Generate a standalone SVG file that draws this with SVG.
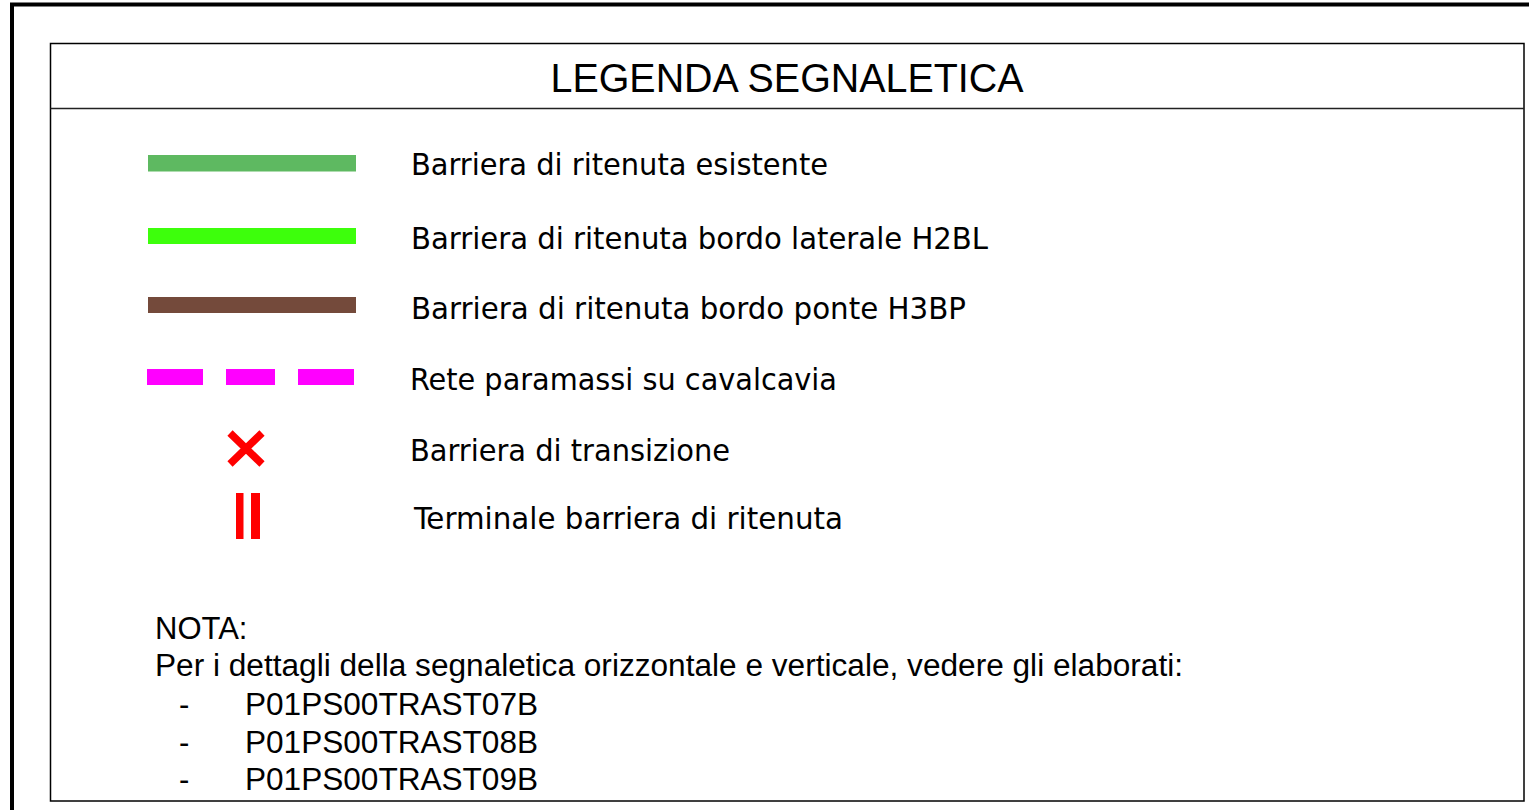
<svg xmlns="http://www.w3.org/2000/svg" width="1529" height="810" viewBox="0 0 1529 810">
<style>
.lbl{font-family:"DejaVu Sans Condensed","DejaVu Sans",sans-serif;font-size:31px;fill:#000}
.ar{font-family:"Liberation Sans",Arial,sans-serif;fill:#000}
.frame{fill:none;stroke:#000}
</style>
<rect x="0" y="0" width="1529" height="810" fill="#fff"/>
<path class="frame" d="M12 810 V4.5 H1529" stroke-width="4"/>
<g id="legend-box">
<rect class="frame" x="50.5" y="43.5" width="1473.5" height="757.5" stroke-width="1.5" stroke="#222"/>
<line x1="50.5" y1="108.5" x2="1524" y2="108.5" stroke="#222" stroke-width="1.5"/>
<text class="ar" x="787" y="92" font-size="41" text-anchor="middle" textLength="473" lengthAdjust="spacingAndGlyphs">LEGENDA SEGNALETICA</text>
</g>
<g id="item-existing">
<rect x="148" y="155" width="208" height="16.5" fill="#5eb961"/>
<text class="lbl" x="411" y="175" textLength="417" lengthAdjust="spacingAndGlyphs">Barriera di ritenuta esistente</text>
</g>
<g id="item-h2bl">
<rect x="148" y="228" width="208" height="16" fill="#3dff0c"/>
<text class="lbl" x="411" y="249" textLength="577" lengthAdjust="spacingAndGlyphs">Barriera di ritenuta bordo laterale H2BL</text>
</g>
<g id="item-h3bp">
<rect x="148" y="297" width="208" height="16" fill="#744a3b"/>
<text class="lbl" x="411" y="319" textLength="555" lengthAdjust="spacingAndGlyphs">Barriera di ritenuta bordo ponte H3BP</text>
</g>
<g id="item-rete">
<rect x="147" y="369" width="56" height="16" fill="#ff00ff"/>
<rect x="226" y="369" width="49" height="16" fill="#ff00ff"/>
<rect x="298" y="369" width="56" height="16" fill="#ff00ff"/>
<text class="lbl" x="410" y="390" textLength="427" lengthAdjust="spacingAndGlyphs">Rete paramassi su cavalcavia</text>
</g>
<g id="item-transizione">
<path d="M230 433 L262 464 M262 433 L230 464" stroke="#ff0000" stroke-width="7.5" fill="none"/>
<text class="lbl" x="410" y="461" textLength="320" lengthAdjust="spacingAndGlyphs">Barriera di transizione</text>
</g>
<g id="item-terminale">
<rect x="236" y="493" width="7.5" height="46" fill="#ff0000"/>
<rect x="251" y="493" width="9" height="46" fill="#ff0000"/>
<text class="lbl" x="414" y="529" textLength="429" lengthAdjust="spacingAndGlyphs">Terminale barriera di ritenuta</text>
</g>
<g id="nota">
<text class="ar" x="155" y="639" font-size="31">NOTA:</text>
<text class="ar" x="155" y="676" font-size="31" textLength="1028" lengthAdjust="spacingAndGlyphs">Per i dettagli della segnaletica orizzontale e verticale, vedere gli elaborati:</text>
<text class="ar" x="179" y="715" font-size="31">-</text>
<text class="ar" x="245" y="715" font-size="31" textLength="293" lengthAdjust="spacingAndGlyphs">P01PS00TRAST07B</text>
<text class="ar" x="179" y="753" font-size="31">-</text>
<text class="ar" x="245" y="753" font-size="31" textLength="293" lengthAdjust="spacingAndGlyphs">P01PS00TRAST08B</text>
<text class="ar" x="179" y="790" font-size="31">-</text>
<text class="ar" x="245" y="790" font-size="31" textLength="293" lengthAdjust="spacingAndGlyphs">P01PS00TRAST09B</text>
</g>
</svg>
